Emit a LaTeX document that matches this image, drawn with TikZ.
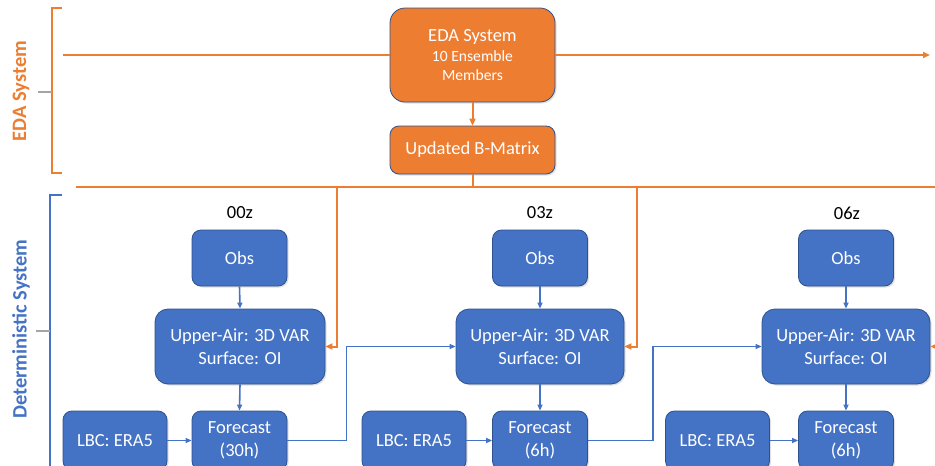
\documentclass[tikz,border=0pt]{standalone}
\usepackage{fontspec}
\setmainfont{Carlito}
\usetikzlibrary{arrows.meta,shadows}
\definecolor{ored}{HTML}{ED7D31}
\definecolor{oblue}{HTML}{4472C4}
\definecolor{edgec}{HTML}{2F528F}
\definecolor{tickc}{HTML}{A5A5A5}
\begin{document}
\begin{tikzpicture}[x=1pt,y=-1pt,
  box/.style={draw=edgec, line width=0.8pt, text=white, inner sep=0pt, align=center,
    font=\fontsize{18.5}{23}\selectfont,
    drop shadow={opacity=0.25, shadow xshift=1.5pt, shadow yshift=-1.5pt}},
  bbox/.style={box, fill=oblue},
  obox/.style={box, fill=ored},
  oline/.style={draw=ored, line width=2pt},
  oarr/.style={oline, -{Triangle[length=7pt,width=6pt]}},
  bline/.style={draw=oblue, line width=1.6pt},
  barr/.style={bline, -{Triangle[length=6pt,width=5pt]}},
  timelbl/.style={font=\fontsize{18.5}{22}\selectfont, text=black, inner sep=0pt},
  sidelbl/.style={font=\fontsize{20.5}{24}\selectfont\bfseries, inner sep=0pt, rotate=90}
]
\useasboundingbox (0,0) rectangle (935,466);
\clip (0,0) rectangle (935,466);

% ---------- EDA part ----------
\node[obox, rounded corners=15pt, minimum width=165pt, minimum height=94pt] (eda) at (472.5,55)
  {EDA System\\[-3pt]{\fontsize{15.6}{19}\selectfont 10 Ensemble}\\[-4pt]{\fontsize{15.6}{19}\selectfont Members}};
\node[obox, rounded corners=9pt, minimum width=165pt, minimum height=48pt] (bmat) at (472.5,150) {Updated B-Matrix};

\coordinate (olA) at (63,55);
\coordinate (olB) at (930,55);
\draw[oline] (olA) -- (eda.west);
\draw[oarr] (eda.east) -- (olB);
\draw[oarr] (eda.south) -- (bmat.north);

\coordinate (blA) at (76,187);
\coordinate (blB) at (940,187);
\coordinate (bmid) at (472.5,187);
\draw[oline] (blA) -- (blB);
\draw[oline] (bmat.south) -- (bmid);

% ---------- brackets ----------
\coordinate (ebT) at (62,8);
\coordinate (ebB) at (62,173);
\draw[draw=ored, line width=1.8pt] (ebT) -- (52,8) -- (52,173) -- (ebB);
\coordinate (ebM) at (52,92);
\coordinate (ebK) at (38,92);
\draw[draw=tickc, line width=1.8pt] (ebM) -- (ebK);
\node[sidelbl, text=ored] (edalbl) at (21,91) {EDA System};

\coordinate (dbT) at (62,195);
\draw[draw=oblue, line width=1.8pt] (dbT) -- (50,195) -- (50,475);
\coordinate (dbM) at (50,331);
\coordinate (dbK) at (36,331);
\draw[draw=tickc, line width=1.8pt] (dbM) -- (dbK);
\node[sidelbl, text=oblue] (detlbl) at (21,329) {Deterministic System};

% ---------- column 1 ----------
\node[timelbl] (t1) at (240,213) {00z};
\node[bbox, rounded corners=9pt, minimum width=95pt, minimum height=56pt] (obs1) at (239.5,258) {Obs};
\node[bbox, rounded corners=13pt, minimum width=170pt, minimum height=75pt] (ua1) at (240,346.5) {Upper-Air: 3D VAR\\Surface: OI};
\node[bbox, rounded corners=9pt, minimum width=95pt, minimum height=59pt] (fc1) at (239.5,440.5) {Forecast\\(30h)};
\node[bbox, rounded corners=9pt, minimum width=104pt, minimum height=59pt] (lbc1) at (115,440.5) {LBC: ERA5};

% ---------- column 2 ----------
\node[timelbl] (t2) at (540,213) {03z};
\node[bbox, rounded corners=9pt, minimum width=95pt, minimum height=56pt] (obs2) at (540,258) {Obs};
\node[bbox, rounded corners=13pt, minimum width=168pt, minimum height=75pt] (ua2) at (540,346.5) {Upper-Air: 3D VAR\\Surface: OI};
\node[bbox, rounded corners=9pt, minimum width=95pt, minimum height=59pt] (fc2) at (540,440.5) {Forecast\\(6h)};
\node[bbox, rounded corners=9pt, minimum width=104pt, minimum height=59pt] (lbc2) at (414,440.5) {LBC: ERA5};

% ---------- column 3 ----------
\node[timelbl] (t3) at (847,213) {06z};
\node[bbox, rounded corners=9pt, minimum width=95pt, minimum height=56pt] (obs3) at (846,258) {Obs};
\node[bbox, rounded corners=13pt, minimum width=168pt, minimum height=75pt] (ua3) at (846,346.5) {Upper-Air: 3D VAR\\Surface: OI};
\node[bbox, rounded corners=9pt, minimum width=95pt, minimum height=59pt] (fc3) at (846,440.5) {Forecast\\(6h)};
\node[bbox, rounded corners=9pt, minimum width=104pt, minimum height=59pt] (lbc3) at (717.5,440.5) {LBC: ERA5};

% ---------- blue connectors ----------
\foreach \i in {1,2,3}{
  \draw[barr] (obs\i.south) -- (ua\i.north);
  \draw[barr] (ua\i.south) -- (fc\i.north);
  \draw[barr] (lbc\i.east) -- (fc\i.west);
}
\draw[barr] (fc1.east) -- ++(59,0) |- (ua2.west);
\draw[barr] (fc2.east) -- ++(65,0) |- (ua3.west);

% ---------- orange drops ----------
\coordinate (d1) at (337,187);
\coordinate (d2) at (637,187);
\coordinate (d3) at (940,346.5);
\draw[oarr] (d1) |- (ua1.east);
\draw[oarr] (d2) |- (ua2.east);
\draw[oarr] (d3) -- (ua3.east);
\end{tikzpicture}
\end{document}
